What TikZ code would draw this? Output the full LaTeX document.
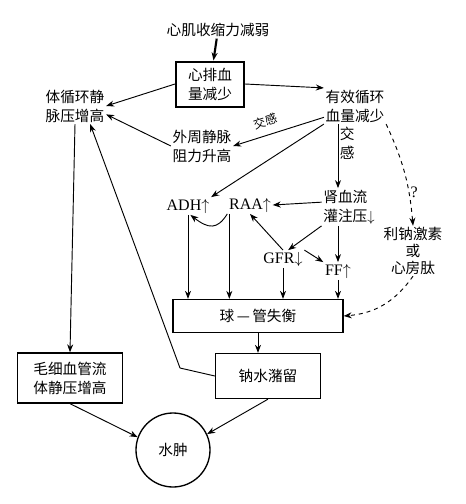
\documentclass[tikz,border=0pt]{standalone}
\usepackage{fontspec}
\newfontfamily\cjk{Noto Sans CJK SC}
\newfontfamily\lat{Liberation Serif}
\usetikzlibrary{arrows.meta}
\begin{document}
\begin{tikzpicture}[x=0.75pt,y=-0.75pt,
                    line width=0.7pt,>={Stealth[length=6pt,width=4.5pt]},
                    txt node/.style={font=\cjk\fontsize{11}{14.25}\selectfont,align=center,inner sep=1pt},
                    lat node/.style={font=\lat\fontsize{12}{14}\selectfont,inner sep=1pt},
                    box node/.style={draw,line width=1pt,font=\cjk\fontsize{11}{14.25}\selectfont,align=center}
                   ]
  \useasboundingbox (0,0) rectangle (465,504);
  \node[txt node] (weak) at (218,30) {心肌收缩力减弱};
  \node[box node,line width=1.5pt,minimum width=51pt,minimum height=33.75pt] (cpx) at (210,84) {心排血\\量减少};
  \node[txt node] (ven) at (75,106) {体循环静\\脉压增高};
  \node[txt node] (eff) at (355,106) {有效循环\\血量减少};
  \node[txt node] (per) at (202,146) {外周静脉\\阻力升高};
  \node[lat node] (adh) at (188,206) {ADH$\uparrow$};
  \node[lat node] (raa) at (250,205) {RAA$\uparrow$};
  \node[txt node,align=left] (ren) at (349,207) {肾血流\\灌注压$\downarrow$};
  \node[lat node] (gfr) at (283,259) {GFR$\downarrow$};
  \node[lat node] (ff) at (338,271) {FF$\uparrow$};
  \node[txt node,font=\cjk\fontsize{11}{12.5}\selectfont] (ntr) at (413,251) {利钠激素\\或\\心房肽};
  \node[box node,minimum width=127.5pt,minimum height=24.75pt] (imb) at (258,316) {球\,—\,管失衡};
  \node[box node,minimum width=78.75pt,minimum height=33.75pt] (nws) at (268,376) {钠水潴留};
  \node[box node,minimum width=78.75pt,minimum height=37.5pt] (cap) at (70,378) {毛细血管流\\体静压增高};
  \node[draw,circle,line width=1pt,minimum size=55.5pt,font=\cjk\fontsize{11}{14}\selectfont] (edema) at (173,450) {水肿};
  \coordinate (kink) at (180,368);

  \draw[->,line width=1.6pt] (weak) -- (cpx);
  \path[->]%
   (cpx.west) edge (ven.east)
   (cpx.east) edge (eff.north west)
   (eff.200) edge node[sloped,above=5pt,pos=.6,txt node,font=\cjk\fontsize{9}{11}\selectfont] {交感} (per.east)
   (per.west) edge (ven.-15)
   (eff.south west) edge (adh.north east)
   (eff.south -| ff) edge node[right,txt node,pos=.3] {交\\感} (ren.north -| ff)
   (ren.170) edge (raa.east)
   (ren.south west) edge (gfr.60)
   (ren.south -| ff) edge (ff.north)
   (gfr.north) edge (raa.south)
   (gfr.north east) edge (ff.north west)
   ([xshift=1.5pt]raa.south west) edge ([xshift=1.5pt]raa.south west |- imb.north)
   (adh.south) edge (adh.south |- imb.north)
   (gfr.south) edge (gfr.south |- imb.north)
   (ff.south) edge (ff.south |- imb.north)
   (imb.south) edge (imb.south |- nws.north)
   (ven.south) edge (cap.north)
   (cap.south) edge (edema.160)
   (nws.south) edge (edema.25);
  \draw[->] (raa.south west) .. controls +(-10,16) and +(18,14) .. (adh.-75);
  \path[->,dashed]%
   (eff.south east) edge[bend left=10] node[right,pos=.7,lat node] {?} (ntr.north)
   (ntr.south) edge[bend left=25] (imb.east);
  \draw[->] (nws.west) -- (kink) -- (ven.-50);
\end{tikzpicture}
\end{document}
